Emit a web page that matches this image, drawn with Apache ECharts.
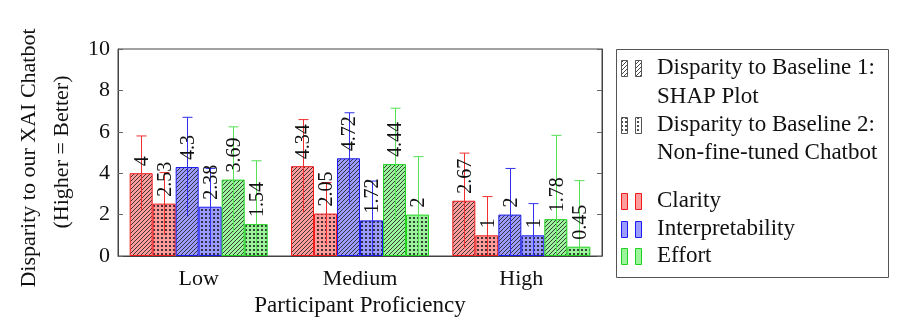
<!DOCTYPE html>
<html>
<head>
<meta charset="utf-8">
<script src="https://cdn.jsdelivr.net/npm/echarts@6/dist/echarts.min.js"></script>
<style>
  html, body { margin: 0; padding: 0; background: #fff; }
  #chart { width: 903px; height: 323px; }
</style>
</head>
<body>
<div id="chart"></div>
<script>
// ---- data ----
const categories = ['Low', 'Medium', 'High'];
const yTicks = { min: 0, max: 10, interval: 2 };

const clarityB1 = [4, 4.34, 2.67];
const clarityB1Err = [1.8, 2.25, 2.3];
const clarityB2 = [2.53, 2.05, 1];
const clarityB2Err = [1.5, 1.5, 1.87];

const interpB1 = [4.3, 4.72, 2];
const interpB1Err = [2.4, 2.2, 2.23];
const interpB2 = [2.38, 1.72, 1];
const interpB2Err = [1.85, 1.9, 1.53];

const effortB1 = [3.69, 4.44, 1.78];
const effortB1Err = [2.55, 2.7, 4.05];
const effortB2 = [1.54, 2, 0.45];
const effortB2Err = [3.06, 2.8, 3.19];

const baselineNames = [
  ['Disparity to Baseline 1:', 'SHAP Plot'],
  ['Disparity to Baseline 2:', 'Non-fine-tuned Chatbot']
];
const metricNames = ['Clarity', 'Interpretability', 'Effort'];
const xTitle = 'Participant Proficiency';
const yTitle = ['Disparity to our XAI Chatbot', '(Higher = Better)'];

// ---- styles ----
const FONT = '"Liberation Serif", "DejaVu Serif", serif';
const BAR_W = 23;
const edge = { red: '#f01c1c', blue: '#1c1cee', green: '#22d022' };
const fill = { red: '#ff9c9c', blue: '#9c9cff', green: '#9cf59c' };
const whisker = { red: '#f03030', blue: '#3030ee', green: '#55e055' };

function hatch(base, ink, size) {
  const c = document.createElement('canvas');
  c.width = c.height = size;
  const g = c.getContext('2d');
  g.fillStyle = base; g.fillRect(0, 0, size, size);
  g.strokeStyle = ink; g.lineWidth = 0.9;
  g.beginPath();
  g.moveTo(0, size); g.lineTo(size, 0);
  g.moveTo(-1, 1); g.lineTo(1, -1);
  g.moveTo(size - 1, size + 1); g.lineTo(size + 1, size - 1);
  g.stroke();
  return { image: c, repeat: 'repeat' };
}
function dots(base, ink, size) {
  const c = document.createElement('canvas');
  c.width = c.height = size;
  const g = c.getContext('2d');
  g.fillStyle = base; g.fillRect(0, 0, size, size);
  g.fillStyle = ink;
  g.beginPath(); g.arc(size / 2, size / 2, 1.1, 0, Math.PI * 2); g.fill();
  return { image: c, repeat: 'repeat' };
}

const groups = [
  { key: 'red',   kind: 'hatch', values: clarityB1, errs: clarityB1Err },
  { key: 'red',   kind: 'dots',  values: clarityB2, errs: clarityB2Err },
  { key: 'blue',  kind: 'hatch', values: interpB1,  errs: interpB1Err },
  { key: 'blue',  kind: 'dots',  values: interpB2,  errs: interpB2Err },
  { key: 'green', kind: 'hatch', values: effortB1,  errs: effortB1Err },
  { key: 'green', kind: 'dots',  values: effortB2,  errs: effortB2Err }
];

const series = [];
groups.forEach((gr, i) => {
  series.push({
    type: 'bar',
    data: gr.values,
    barWidth: BAR_W,
    barGap: '0%',
    z: 2,
    itemStyle: {
      color: gr.kind === 'hatch' ? hatch(fill[gr.key], '#2a2a2a', 4) : dots(fill[gr.key], '#1a1a1a', 4),
      borderColor: edge[gr.key],
      borderWidth: 1
    },
    emphasis: { disabled: true },
    animation: false
  });
  // error bars
  series.push({
    type: 'custom',
    z: 4,
    animation: false,
    data: gr.values.map((v, k) => [k, v, gr.errs[k]]),
    renderItem: function (params, api) {
      const idx = api.value(0), v = api.value(1), e = api.value(2);
      const base = api.coord([idx, v]);
      const x = Math.round(base[0] + (i - 2.5) * BAR_W) + 0.5;
      const yTop = api.coord([idx, v + e])[1];
      const yBot = api.coord([idx, Math.max(v - e, yTicks.min)])[1];
      const ls = { stroke: whisker[gr.key], lineWidth: 1 };
      return {
        type: 'group',
        children: [
          { type: 'line', shape: { x1: x, y1: yTop, x2: x, y2: yBot }, style: ls },
          { type: 'line', shape: { x1: x - 5, y1: yTop, x2: x + 5, y2: yTop }, style: ls }
        ]
      };
    }
  });
});

// ---- legend (drawn as graphics) ----
const LX = 616, LY = 49, LW = 272, LH = 228;
const legendGraphics = [
  { type: 'rect', shape: { x: LX + 0.5, y: LY + 0.5, width: LW, height: LH },
    style: { fill: '#fff', stroke: '#555', lineWidth: 1 }, z: 10 }
];
function iconPair(cy, fillStyle, stroke) {
  [621, 635].forEach(x0 => {
    legendGraphics.push({ type: 'rect', z: 11,
      shape: { x: x0 + 0.5, y: cy - 8 + 0.5, width: 6, height: 16 },
      style: { fill: fillStyle, stroke: stroke, lineWidth: 1 } });
  });
}
function legendText(txt, cy) {
  legendGraphics.push({ type: 'text', z: 11, x: 657, y: cy,
    style: { text: txt, fontSize: 23, fontFamily: FONT, fill: '#111', verticalAlign: 'middle' } });
}
iconPair(68, hatch('#ffffff', '#333', 4), '#555');
legendText(baselineNames[0][0], 68);
legendText(baselineNames[0][1], 97);
iconPair(125, dots('#ffffff', '#222', 4), '#555');
legendText(baselineNames[1][0], 125);
legendText(baselineNames[1][1], 153);
const metricKeys = ['red', 'blue', 'green'];
const metricY = [201, 229, 256];
metricNames.forEach((n, k) => {
  iconPair(metricY[k], fill[metricKeys[k]], edge[metricKeys[k]]);
  legendText(n, metricY[k]);
});

// y-axis title, two rotated lines
legendGraphics.push({ type: 'text', x: 29, y: 158, rotation: Math.PI / 2,
  style: { text: yTitle[0], fontSize: 22, fontFamily: FONT, fill: '#111', align: 'center', verticalAlign: 'middle' } });
legendGraphics.push({ type: 'text', x: 62, y: 152, rotation: Math.PI / 2,
  style: { text: yTitle[1], fontSize: 22, fontFamily: FONT, fill: '#111', align: 'center', verticalAlign: 'middle' } });

const axisStyle = { lineStyle: { color: '#444', width: 1 } };

const option = {
  animation: false,
  backgroundColor: '#fff',
  grid: { left: 118, right: 301, top: 49, bottom: 67, show: true, borderColor: '#444', borderWidth: 1 },
  xAxis: {
    type: 'category',
    data: categories,
    axisLine: axisStyle,
    axisTick: { show: false },
    axisLabel: { fontSize: 22, fontFamily: FONT, color: '#111', margin: 12 },
    name: xTitle,
    nameLocation: 'middle',
    nameGap: 36,
    nameTextStyle: { fontSize: 23, fontFamily: FONT, color: '#111' }
  },
  yAxis: [
    {
      type: 'value', min: yTicks.min, max: yTicks.max, interval: yTicks.interval,
      axisLine: { show: true, lineStyle: { color: '#444' } },
      axisTick: { show: true, inside: true, length: 5, lineStyle: { color: '#666' } },
      axisLabel: { fontSize: 22, fontFamily: FONT, color: '#111', margin: 8 },
      splitLine: { show: false }
    },
    {
      type: 'value', position: 'right', min: yTicks.min, max: yTicks.max, interval: yTicks.interval,
      axisLine: { show: true, lineStyle: { color: '#444' } },
      axisTick: { show: true, inside: true, length: 5, lineStyle: { color: '#666' } },
      axisLabel: { show: false },
      splitLine: { show: false }
    }
  ],
  graphic: legendGraphics,
  series: series
};

const chart = echarts.init(document.getElementById('chart'), null, { renderer: 'canvas' });
chart.setOption(option);

// rotated value labels above each bar, placed through the axis scales
const valueLabels = [];
groups.forEach((gr, i) => {
  gr.values.forEach((v, k) => {
    const p = chart.convertToPixel({ xAxisIndex: 0, yAxisIndex: 0 }, [k, v]);
    valueLabels.push({
      type: 'text', z: 12,
      x: p[0] + (i - 2.5) * BAR_W + 1.5, y: p[1] - 7,
      rotation: Math.PI / 2,
      style: { text: String(v), fontSize: 20, fontFamily: FONT, fill: '#111',
               align: 'left', verticalAlign: 'middle' }
    });
  });
});
chart.setOption({ graphic: legendGraphics.concat(valueLabels) });
</script>
</body>
</html>
